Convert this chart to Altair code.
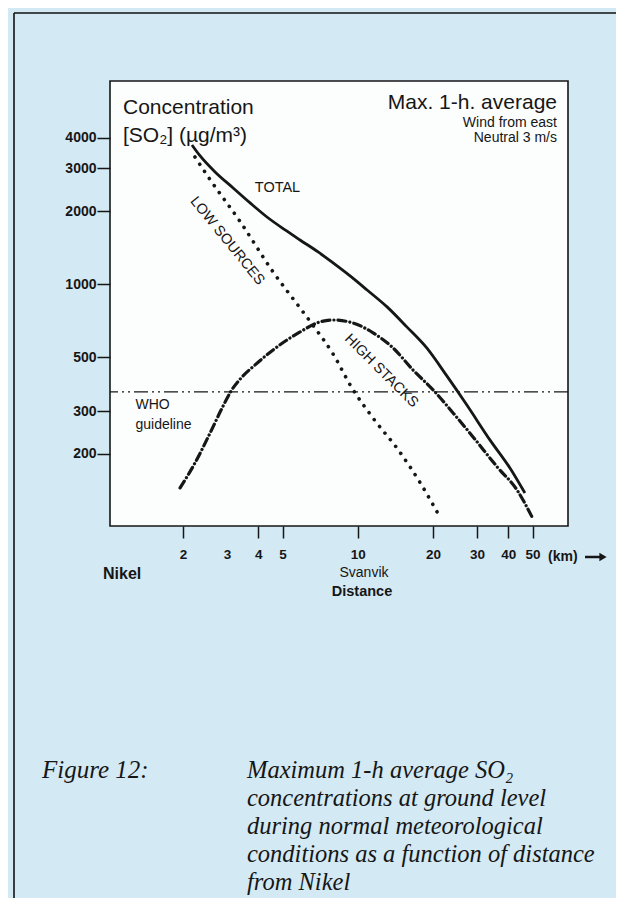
import altair as alt
import pandas as pd

# ---------------- data ----------------
total_km = [2.17, 2.34, 2.685, 3.17, 3.707, 4.33, 5.117, 5.87, 6.934, 7.96, 9.31, 10.89,
            13.09, 15.7, 18.9, 22.7, 27.3, 33.8, 40.6, 46.6]
total_conc = [3741, 3371, 2896, 2489, 2160, 1890, 1672, 1520, 1357, 1223, 1081, 946,
              806, 667, 545, 419, 318, 228, 175, 138]

low_km = [2.23, 2.57, 3.39, 4.58, 5.87, 6.6, 7.96, 9.47, 11.5, 14.7, 17.7, 21.3]
low_conc = [3339, 2685, 1803, 1123, 798, 679, 516, 374, 281, 204, 153, 110]

high_km = [1.945, 2.234, 2.565, 2.864, 3.111, 3.443, 3.882, 4.581, 5.875, 7.063, 7.962,
           9.572, 11.51, 13.84, 16.63, 20.0, 24.04, 28.9, 36.06, 43.35, 49.77]
high_conc = [145, 184, 244, 309, 363, 415, 465, 536, 636, 699, 712,
             692, 630, 546, 443, 367, 295, 235, 177, 142, 110]

who_guideline = [360]

x_ticks = [2, 3, 4, 5, 10, 20, 30, 40, 50]
y_ticks = [200, 300, 500, 1000, 2000, 3000, 4000]

curve_labels = ["TOTAL", "LOW SOURCES", "HIGH STACKS"]
curve_label_km = [4.77, 3.0, 12.4]
curve_label_conc = [2477, 1506, 439]
curve_label_angle = [0, 51, 45]

who_lines = ["WHO", "guideline"]
who_km = [1.29, 1.29]
who_conc = [318, 263]

caption_lines = [
    "Maximum 1-h average SO\u2082",
    "concentrations at ground level",
    "during normal meteorological",
    "conditions as a function of distance",
    "from Nikel",
]

# ---------------- styling ----------------
SANS = "Liberation Sans"
SERIF = "Liberation Serif"
INK = "#161616"
BG = "#d3e9f4"

xs = alt.Scale(type="log", domain=[1.02, 69.3], nice=False)
ys = alt.Scale(type="log", domain=[101, 6860], nice=False)

xaxis = alt.Axis(
    values=x_ticks, format="d", title=None, grid=False, domain=False,
    tickSize=12, tickWidth=1.5, tickColor=INK, labelPadding=9,
    labelFont=SANS, labelFontSize=13.5, labelFontWeight="bold", labelColor=INK,
    labelOverlap=False, labelFlush=False,
    tickOpacity={"condition": {"test": "datum.value === 3", "value": 0}, "value": 1},
)
yaxis = alt.Axis(
    values=y_ticks, format="d", title=None, grid=False, domain=False,
    tickSize=13, tickWidth=1.5, tickColor=INK, labelPadding=1,
    labelFont=SANS, labelFontSize=14, labelFontWeight="bold", labelColor=INK,
    labelOverlap=False, labelFlush=False,
)

X = lambda f="km": alt.X(f"{f}:Q", scale=xs, axis=xaxis)
Y = lambda f="conc": alt.Y(f"{f}:Q", scale=ys, axis=yaxis)

total_df = pd.DataFrame({"km": total_km, "conc": total_conc})
low_df = pd.DataFrame({"km": low_km, "conc": low_conc})
high_df = pd.DataFrame({"km": high_km, "conc": high_conc})
who_df = pd.DataFrame({"conc": who_guideline})
lab_df = pd.DataFrame({"label": curve_labels, "km": curve_label_km,
                       "conc": curve_label_conc, "angle": curve_label_angle})
who_txt_df = pd.DataFrame({"label": who_lines, "km": who_km, "conc": who_conc})
one = pd.DataFrame({"a": [0]})

who_rule = alt.Chart(who_df).mark_rule(
    color=INK, strokeWidth=1.3, strokeDash=[14, 4, 2, 4, 2, 4]
).encode(y=Y())

total = alt.Chart(total_df).mark_line(
    interpolate="monotone", color=INK, strokeWidth=2.8
).encode(x=X(), y=Y())

low = alt.Chart(low_df).mark_line(
    interpolate="monotone", color=INK, strokeWidth=3.6, strokeCap="round",
    strokeDash=[0.1, 8.5]
).encode(x=X(), y=Y())

high = alt.Chart(high_df).mark_line(
    interpolate="monotone", color=INK, strokeWidth=3.2, strokeCap="round",
    strokeDash=[8, 4, 0.1, 4]
).encode(x=X(), y=Y())

labels = alt.Chart(lab_df).mark_text(
    font=SANS, fontSize=14.5, color=INK, align="center", baseline="middle"
).encode(x=X(), y=Y(), text="label:N", angle=alt.Angle("angle:Q", scale=None))

who_text = alt.Chart(who_txt_df).mark_text(
    font=SANS, fontSize=14, color=INK, align="left", baseline="middle"
).encode(x=X(), y=Y(), text="label:N")


def txt(s, x, y, size, align="left", weight="normal", font=SANS, style="normal",
        baseline="alphabetic"):
    return alt.Chart(one).mark_text(
        text=s, font=font, fontSize=size, fontWeight=weight, fontStyle=style,
        align=align, baseline=baseline, color=INK
    ).encode(x=alt.value(x), y=alt.value(y))


# page coordinates -> plot coordinates: (px - 110, py - 81)
headers = [
    txt("Concentration", 13, 33, 21),
    txt("[SO\u2082] (\u00b5g/m\u00b3)", 13, 61, 21),
    txt("Max. 1-h. average", 447, 28, 21, align="right"),
    txt("Wind from east", 447, 46, 14, align="right"),
    txt("Neutral 3 m/s", 447, 61, 14, align="right"),
    txt("(km)", 438, 476, 14, weight="bold", baseline="middle"),
    txt("Nikel", -7, 493, 16, weight="bold", baseline="middle"),
    txt("Svanvik", 254, 492, 14, align="center", baseline="middle"),
    txt("Distance", 252, 511, 14.5, align="center", weight="bold", baseline="middle"),
    txt("Figure 12:", -68, 697, 25, font=SERIF, style="italic"),
]
for i, line in enumerate(caption_lines):
    headers.append(txt(line, 137, 697 + 28 * i, 24.5, font=SERIF, style="italic"))

arrow_shaft = alt.Chart(one).mark_rule(color=INK, strokeWidth=2.5).encode(
    x=alt.value(475), x2=alt.value(490), y=alt.value(476))
arrow_head = alt.Chart(one).mark_point(
    shape="triangle-right", filled=True, color=INK, size=70, opacity=1
).encode(x=alt.value(493), y=alt.value(476))

frame_v = alt.Chart(one).mark_rule(color="#111", strokeWidth=1.6).encode(
    x=alt.value(-96), y=alt.value(-68), y2=alt.value(830))
frame_h = alt.Chart(one).mark_rule(color="#111", strokeWidth=1.6).encode(
    x=alt.value(-96), x2=alt.value(520), y=alt.value(-68))

chart = alt.layer(
    who_rule, low, high, total, labels, who_text, *headers,
    arrow_shaft, arrow_head, frame_v, frame_h
).properties(
    width=458, height=445,
    padding={"left": 102, "top": 73, "right": 48, "bottom": 372},
    autosize=alt.AutoSizeParams(type="none"),
    background=BG,
).configure_view(
    fill="#fcfdfd", stroke=INK, strokeWidth=1.6
)

chart.save("out.html", embed_options={"renderer": "svg", "actions": False})
